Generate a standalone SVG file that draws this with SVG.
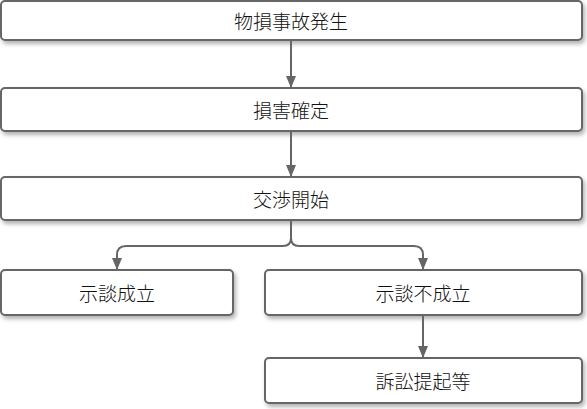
<svg xmlns="http://www.w3.org/2000/svg" width="587" height="409" viewBox="0 0 587 409">
<defs>
<filter id="sh" x="-10%" y="-30%" width="120%" height="170%">
<feDropShadow dx="2" dy="3" stdDeviation="2" flood-color="#000" flood-opacity="0.3"/>
</filter>
<marker id="ar" markerWidth="12" markerHeight="10" refX="11" refY="5" orient="auto" markerUnits="userSpaceOnUse">
<path d="M0,0 L12,5 L0,10 Z" fill="#666"/>
</marker>
<style>
.box{fill:#fff;stroke:#666;stroke-width:2;filter:url(#sh)}
.t{font-family:"Noto Sans CJK JP","Noto Sans",sans-serif;font-size:19px;font-weight:300;fill:#111;text-anchor:middle;dominant-baseline:central}
.c{fill:none;stroke:#666;stroke-width:2}
</style>
</defs>
<g id="n1"><rect class="box" x="1" y="1" width="581" height="39" rx="4"/><text class="t" x="291" y="20">物損事故発生</text></g>
<g id="n2"><rect class="box" x="1" y="88" width="581" height="43" rx="4"/><text class="t" x="291" y="109">損害確定</text></g>
<g id="n3"><rect class="box" x="1" y="177" width="581" height="43" rx="4"/><text class="t" x="291" y="198">交渉開始</text></g>
<g id="n4"><rect class="box" x="1" y="270" width="232" height="45" rx="4"/><text class="t" x="117" y="292">示談成立</text></g>
<g id="n5"><rect class="box" x="265" y="270" width="317" height="45" rx="4"/><text class="t" x="423" y="292">示談不成立</text></g>
<g id="n6"><rect class="box" x="265" y="358" width="317" height="45" rx="4"/><text class="t" x="423" y="380">訴訟提起等</text></g>
<g id="connectors">
<path class="c" d="M291,41 V87" marker-end="url(#ar)"/>
<path class="c" d="M291,132 V176" marker-end="url(#ar)"/>
<path class="c" d="M291,221 V238 Q291,246 283,246 H126 Q117,246 117,255 V269" marker-end="url(#ar)"/>
<path class="c" d="M291,238 Q291,246 299,246 H414 Q423,246 423,255 V269" marker-end="url(#ar)"/>
<path class="c" d="M423,316 V357" marker-end="url(#ar)"/>
</g>
</svg>
